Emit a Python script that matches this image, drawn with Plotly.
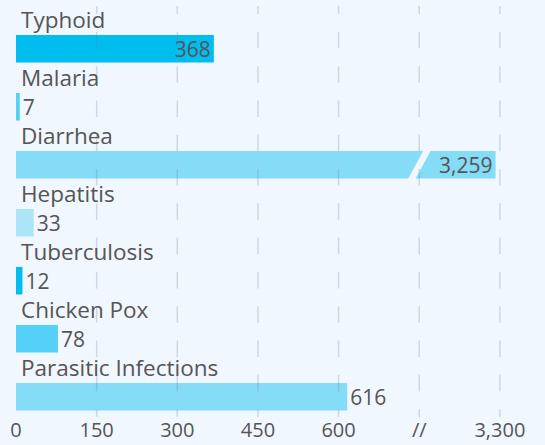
import plotly.graph_objects as go

# ---- data ----
categories = ["Typhoid", "Malaria", "Diarrhea", "Hepatitis", "Tuberculosis", "Chicken Pox", "Parasitic Infections"]
values = [368, 7, 3259, 33, 12, 78, 616]
bar_colors = ["#00BDF0", "#55D0F6", "#84DCF6", "#ADE5F8", "#00BDF0", "#55D0F6", "#84DCF6"]
lower_ticks = [0, 150, 300, 450, 600]
lower_tick_labels = ["0", "150", "300", "450", "600"]
upper_tick = 3300
upper_tick_label = "3,300"
break_label = "//"

# ---- broken axis mapping ----
TICK_STEP = 150
BREAK_POS = lower_ticks[-1] + TICK_STEP        # axis position of the break
UPPER_POS = BREAK_POS + TICK_STEP              # axis position of the upper tick
UPPER_SCALE = 0.195                            # compression of the upper segment


def to_axis(v):
    if v <= BREAK_POS - 50:
        return v
    return UPPER_POS - (upper_tick - v) * UPPER_SCALE


BG = "#F0F7FE"
TXT = "#555555"
FONT = "Open Sans"
FS = 21

x_disp = [to_axis(v) for v in values]
text_pos = ["inside" if to_axis(v) > 250 and v != 616 else "outside" for v in values]

fig = go.Figure()
fig.add_trace(go.Bar(
    y=categories,
    x=x_disp,
    orientation="h",
    width=0.474,
    marker=dict(color=bar_colors, line=dict(width=0)),
    text=[f"{v:,}" for v in values],
    textposition=text_pos,
    insidetextanchor="end",
    textangle=0,
    constraintext="none",
    cliponaxis=False,
    textfont=dict(family=FONT, size=FS, color=TXT),
    insidetextfont=dict(family=FONT, size=FS, color=TXT),
    outsidetextfont=dict(family=FONT, size=FS, color=TXT),
    hoverinfo="skip",
))

shapes = []
# break gap through bars that exceed the break
for i, v in enumerate(values):
    if to_axis(v) > BREAK_POS:
        top, bot = i - 0.26, i + 0.27
        hw, sl = 6.9, 15.5
        shapes.append(dict(
            type="path", xref="x", yref="y", layer="above",
            path=(f"M {BREAK_POS - sl - hw},{bot} L {BREAK_POS + sl - hw},{top} "
                  f"L {BREAK_POS + sl + hw},{top} L {BREAK_POS - sl + hw},{bot} Z"),
            fillcolor=BG, line=dict(width=0),
        ))

grid_positions = lower_ticks[1:] + [BREAK_POS, UPPER_POS]
for gx in grid_positions:
    shapes.append(dict(
        type="line", xref="x", yref="y", layer="above",
        x0=gx, x1=gx, y0=-0.883, y1=6.4,
        line=dict(color="rgba(120,125,130,0.26)", width=1.5, dash="16.5px,17.8px"),
    ))

annotations = []
for i, c in enumerate(categories):
    annotations.append(dict(
        x=0, y=i - 0.237, xref="x", yref="y",
        text=c, showarrow=False, xanchor="left", yanchor="bottom",
        xshift=3, yshift=-2,
        font=dict(family=FONT, size=22.5, color=TXT),
    ))

fig.update_layout(
    width=545, height=445,
    margin=dict(l=16, r=29, t=6, b=28, autoexpand=False),
    paper_bgcolor=BG, plot_bgcolor=BG,
    showlegend=False,
    bargap=0.5,
    shapes=shapes,
    annotations=annotations,
    xaxis=dict(
        range=[0, 930],
        automargin=False,
        tickvals=lower_ticks + [BREAK_POS, UPPER_POS],
        ticktext=lower_tick_labels + [break_label, upper_tick_label],
        showgrid=False, zeroline=False, showline=False, ticks="",
        tickfont=dict(family=FONT, size=20, color=TXT),
        ticklabelstandoff=-1,
        fixedrange=True,
    ),
    yaxis=dict(
        type="category",
        automargin=False,
        range=[6.35, -0.737],
        showticklabels=False, showgrid=False, zeroline=False, showline=False, ticks="",
        fixedrange=True,
    ),
)

fig.write_html(
    "out.html",
    config={"displayModeBar": False, "staticPlot": True},
    post_script="document.body.style.margin='0';document.body.style.background='#F0F7FE';",
)
